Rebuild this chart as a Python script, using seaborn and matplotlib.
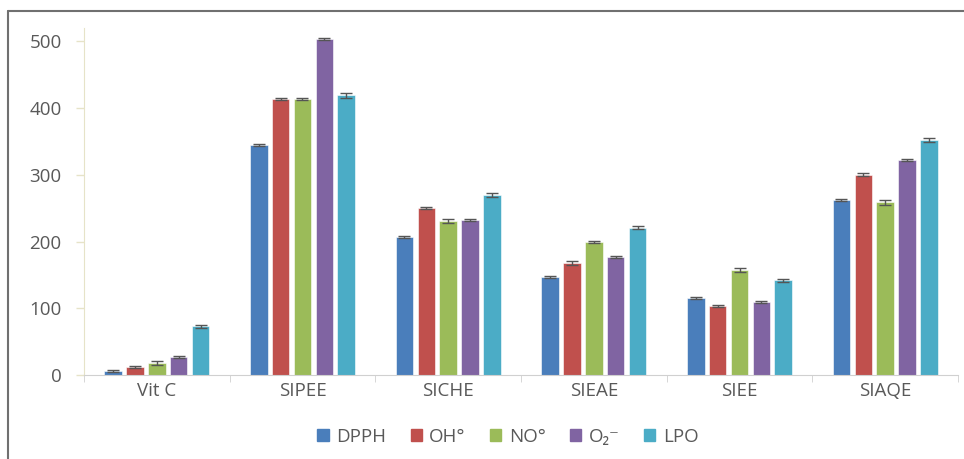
import matplotlib
matplotlib.use("Agg")
import matplotlib.pyplot as plt
from matplotlib.lines import Line2D
import pandas as pd
import seaborn as sns

# extracts and assays
extracts = ['Vit C', 'SIPEE', 'SICHE', 'SIEAE', 'SIEE', 'SIAQE']
assays = ['DPPH', 'OH°', 'NO°', 'O₂⁻', 'LPO']

dpph = [6, 344, 207, 147, 115, 262]
oh = [12, 413, 251, 168, 103, 300]
no = [18, 413, 231, 200, 157, 259]
o2 = [27, 503, 232, 177, 109, 322]
lpo = [73, 419, 270, 221, 142, 352]

dpph_err = [1.5, 1.5, 1.5, 1.5, 1.5, 1.5]
oh_err = [1.5, 1.5, 1.5, 2.5, 1.5, 2.5]
no_err = [2.5, 1.5, 3.0, 1.5, 3.0, 3.5]
o2_err = [1.5, 1.5, 1.5, 1.5, 1.5, 1.5]
lpo_err = [2.5, 4.0, 3.0, 2.5, 2.0, 2.5]

colors = ['#4a7ebb', '#c0504d', '#9bbb59', '#8064a2', '#4bacc6']

values = [dpph, oh, no, o2, lpo]
errors = [dpph_err, oh_err, no_err, o2_err, lpo_err]

rows = []
for a, vals in zip(assays, values):
    for e, v in zip(extracts, vals):
        rows.append({'extract': e, 'assay': a, 'value': v})
df = pd.DataFrame(rows)

sns.set_style('white')
plt.rcParams['font.family'] = ['Open Sans', 'DejaVu Sans']
txt = '#595959'

fig = plt.figure(figsize=(9.64, 4.59), dpi=100)
ax = fig.add_axes([0.0871, 0.183, 0.9067, 0.756])

sns.barplot(data=df, x='extract', y='value', hue='assay', order=extracts,
            hue_order=assays, palette=colors, width=0.75, gap=0.2,
            saturation=1, errorbar=None, ax=ax, legend=True)

# error bars from bar positions
for cont, errs in zip(ax.containers, errors):
    for bar, err in zip(cont, errs):
        xc = bar.get_x() + bar.get_width() / 2
        ax.errorbar(xc, bar.get_height(), yerr=err, color='#555555',
                    lw=1, capsize=4, capthick=1)
    for bar in cont:
        bar.set_edgecolor('white')
        bar.set_linewidth(0.4)

ax.set_xlim(-0.5, 5.5)
ax.set_ylim(0, 520)
ax.set_yticks([0, 100, 200, 300, 400, 500])
ax.set_xlabel('')
ax.set_ylabel('')

for s in ['top', 'right']:
    ax.spines[s].set_visible(False)
ax.spines['left'].set_color('#e6e3c8')
ax.spines['bottom'].set_color('#d0d0d0')

ax.tick_params(axis='y', length=6, width=1, color='#e6e3c8', pad=10,
               labelsize=13.5, labelcolor=txt, left=True)
ax.tick_params(axis='x', length=0, pad=5, labelsize=13.5, labelcolor=txt)
ax.set_xticks([i - 0.5 for i in range(7)], minor=True)
ax.tick_params(axis='x', which='minor', length=5, color='#d0d0d0', bottom=True)

ax.get_legend().remove()
handles = [plt.Rectangle((0, 0), 1, 1, color=c) for c in colors]
fig.legend(handles, assays, loc='center', bbox_to_anchor=(0.527, 0.048),
           ncol=5, frameon=False, fontsize=13.5, labelcolor=txt,
           handlelength=0.6, handleheight=0.6, handletextpad=0.4,
           columnspacing=1.3)

# outer frame lines
fig.add_artist(Line2D([0.0085, 0.0085], [0.0, 0.976], color='#707070', lw=1.5))
fig.add_artist(Line2D([0.0085, 1.0], [0.976, 0.976], color='#707070', lw=1.5))

fig.savefig('out.png', dpi=100)
